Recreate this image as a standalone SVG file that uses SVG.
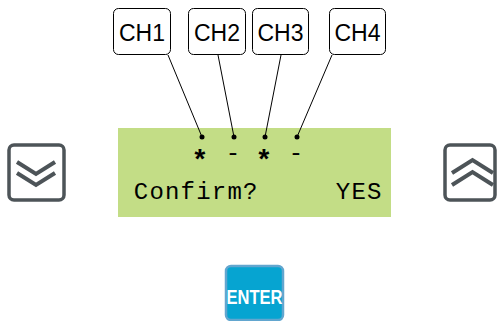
<svg xmlns="http://www.w3.org/2000/svg" width="497" height="321" viewBox="0 0 497 321">
  <style>
    .label { fill: #fff; stroke: #000; stroke-width: 1; }
    .label-text { font-family: "Liberation Sans", Arial, sans-serif; font-size: 23px; fill: #000; text-anchor: middle; }
    .lead { stroke: #000; stroke-width: 1; fill: none; }
    .dot { fill: #000; }
    .lcd-text { font-family: "Liberation Mono", "DejaVu Sans Mono", monospace; font-size: 24px; fill: #000; text-anchor: middle; }
    .lcd-star { font-size: 28px; font-weight: bold; }
    .key { fill: #fff; stroke: #4d5458; stroke-width: 3.5; }
    .chev { fill: none; stroke: #4d5458; stroke-width: 4; stroke-linejoin: miter; }
  </style>

  <!-- channel labels -->
  <g id="ch1">
    <rect class="label" x="113.5" y="8.5" width="57" height="46" rx="5"/>
    <text class="label-text" x="142" y="41">CH1</text>
  </g>
  <g id="ch2">
    <rect class="label" x="188.5" y="8.5" width="57" height="46" rx="5"/>
    <text class="label-text" x="217" y="41">CH2</text>
  </g>
  <g id="ch3">
    <rect class="label" x="252.5" y="8.5" width="56" height="46" rx="5"/>
    <text class="label-text" x="280.5" y="41">CH3</text>
  </g>
  <g id="ch4">
    <rect class="label" x="329.5" y="8.5" width="56" height="46" rx="5"/>
    <text class="label-text" x="357.5" y="41">CH4</text>
  </g>

  <!-- LCD display -->
  <g id="lcd">
    <rect x="118" y="128" width="273" height="89" fill="#c3dd86"/>
    <text class="lcd-text lcd-star" x="200" y="169">*</text>
    <text class="lcd-text" x="233" y="160">-</text>
    <text class="lcd-text lcd-star" x="264" y="169">*</text>
    <text class="lcd-text" x="296" y="160">-</text>
    <text class="lcd-text" x="141 156.6 172.2 187.8 203.4 219 234.6 250.2" y="199">Confirm?</text>
    <text class="lcd-text" x="343 358.6 374.2" y="199">YES</text>
  </g>

  <!-- leader lines from labels to LCD columns -->
  <g id="connectors">
    <line class="lead" x1="168" y1="55" x2="202" y2="137"/>
    <line class="lead" x1="218" y1="55" x2="234" y2="137"/>
    <line class="lead" x1="281" y1="55" x2="265" y2="137"/>
    <line class="lead" x1="332" y1="55" x2="297" y2="137"/>
    <circle class="dot" cx="202" cy="137" r="2.5"/>
    <circle class="dot" cx="234" cy="137" r="2.5"/>
    <circle class="dot" cx="265" cy="137" r="2.5"/>
    <circle class="dot" cx="297" cy="137" r="2.5"/>
  </g>

  <!-- down key -->
  <g id="key-down">
    <rect class="key" x="9" y="145" width="55" height="55" rx="5"/>
    <polyline class="chev" points="17,162 36,174 55,162"/>
    <polyline class="chev" points="17,173 36,185 55,173"/>
  </g>

  <!-- up key -->
  <g id="key-up">
    <rect class="key" x="445" y="145" width="50" height="55" rx="5"/>
    <polyline class="chev" points="452,173 472.5,160 493,173"/>
    <polyline class="chev" points="452,185 472.5,172 493,185"/>
  </g>

  <!-- enter key -->
  <g id="key-enter">
    <rect x="226" y="266" width="57" height="54" rx="5" fill="#06a4d1" stroke="#62a6cf" stroke-width="2.5"/>
    <text x="254.5" y="304" font-family="Liberation Sans, Arial, sans-serif" font-weight="bold" font-size="19.5" fill="#fff" text-anchor="middle" textLength="56" lengthAdjust="spacingAndGlyphs">ENTER</text>
  </g>
</svg>
